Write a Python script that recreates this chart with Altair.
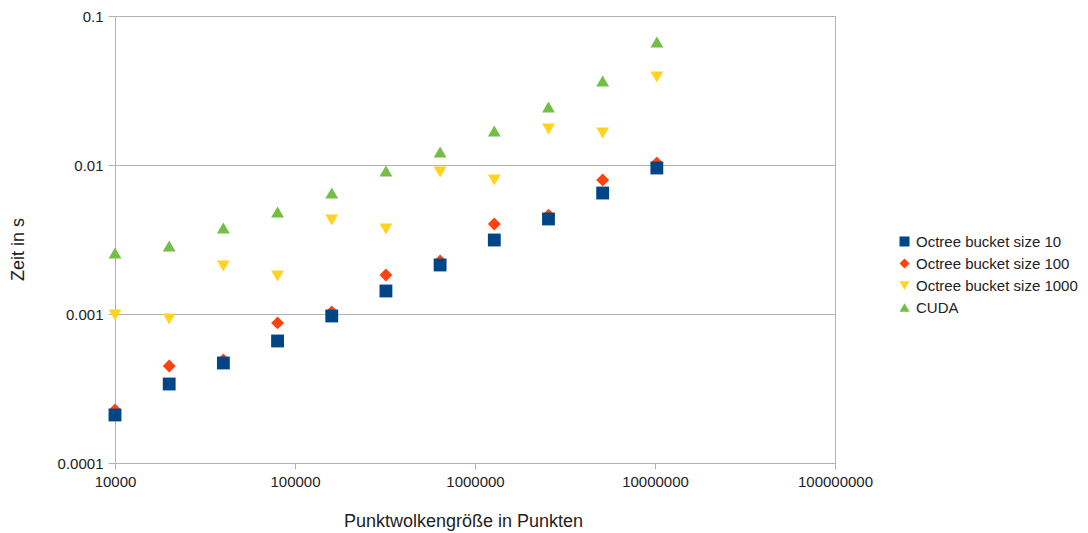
import altair as alt
import pandas as pd

# Point cloud sizes (x) and timings in seconds (y)
sizes = [10000, 20000, 40000, 80000, 160000, 320000, 640000,
         1280000, 2560000, 5120000, 10240000]
bucket10 = [0.000210, 0.000339, 0.000469, 0.000659, 0.000970, 0.001427,
            0.002133, 0.003138, 0.004343, 0.006486, 0.009545]
bucket100 = [0.000227, 0.000448, 0.000491, 0.000871, 0.001031, 0.001828,
             0.002269, 0.004018, 0.004614, 0.007929, 0.01032]
bucket1000 = [0.000984, 0.000925, 0.002100, 0.001799, 0.004276, 0.003718,
              0.008975, 0.007929, 0.01745, 0.01640, 0.03897]
cuda = [0.002566, 0.002858, 0.003777, 0.004840, 0.006486, 0.009114,
        0.01222, 0.01691, 0.02450, 0.03663, 0.06690]

series_names = ["Octree bucket size 10", "Octree bucket size 100",
                "Octree bucket size 1000", "CUDA"]
colors = ["#004586", "#ff420e", "#ffd320", "#72bf44"]
shapes = ["square", "diamond", "triangle-down", "triangle-up"]
x_ticks = [10000, 100000, 1000000, 10000000, 100000000]
y_ticks = [0.0001, 0.001, 0.01, 0.1]

series_values = [bucket10, bucket100, bucket1000, cuda]
rows = []
# draw order: CUDA first, bucket 10 last (squares on top)
for order, idx in enumerate([3, 2, 1, 0]):
    for s, v in zip(sizes, series_values[idx]):
        rows.append({"size": s, "time": v, "series": series_names[idx], "ord": order})
df = pd.DataFrame(rows)

FONT = "Liberation Sans"

chart = alt.Chart(df).mark_point(filled=True, opacity=1, size=165, strokeWidth=0).encode(
    x=alt.X("size:Q",
            scale=alt.Scale(type="log", domain=[10000, 100000000], nice=False),
            axis=alt.Axis(title="Punktwolkengröße in Punkten", values=x_ticks, format=".0f",
                          grid=False, domainColor="#b3b3b3", tickColor="#b3b3b3",
                          tickSize=6, labelPadding=5, labelFontSize=15, labelFont=FONT,
                          labelColor="#222222", labelFlush=False, labelOverlap=False,
                          titleFont=FONT, titleFontSize=18,
                          titleFontWeight="normal", titleColor="#222222",
                          titleX=348, titleY=63, titleBaseline="alphabetic",
                          titleAlign="center")),
    y=alt.Y("time:Q",
            scale=alt.Scale(type="log", domain=[0.0001, 0.1], nice=False),
            axis=alt.Axis(title="Zeit in s", values=y_ticks, format="~g",
                          grid=True, gridColor="#b3b3b3", domainColor="#b3b3b3",
                          tickColor="#b3b3b3", tickSize=7, labelPadding=5,
                          labelFontSize=15, labelFont=FONT, labelColor="#222222",
                          labelFlush=False, labelOverlap=False,
                          titleFont=FONT, titleFontSize=18, titleFontWeight="normal",
                          titleColor="#222222", titleX=-88, titleY=233,
                          titleAlign="center", titleBaseline="bottom", titleAngle=270)),
    color=alt.Color("series:N",
                    scale=alt.Scale(domain=series_names, range=colors),
                    legend=alt.Legend(title=None, orient="none", legendX=782, legendY=218,
                                      labelFont=FONT, labelFontSize=15, labelColor="#222222",
                                      labelLimit=300, symbolSize=100, rowPadding=6,
                                      labelOffset=4, padding=0, symbolStrokeWidth=0)),
    shape=alt.Shape("series:N", scale=alt.Scale(domain=series_names, range=shapes)),
    order=alt.Order("ord:Q"),
).properties(
    width=720, height=447,
    autosize=alt.AutoSizeParams(type="none"),
    padding={"left": 115, "top": 16, "right": 253, "bottom": 70},
    background="white",
).configure_view(
    stroke="#b3b3b3", strokeWidth=1
)

chart.save("out.html", embed_options={"renderer": "svg", "actions": False})
